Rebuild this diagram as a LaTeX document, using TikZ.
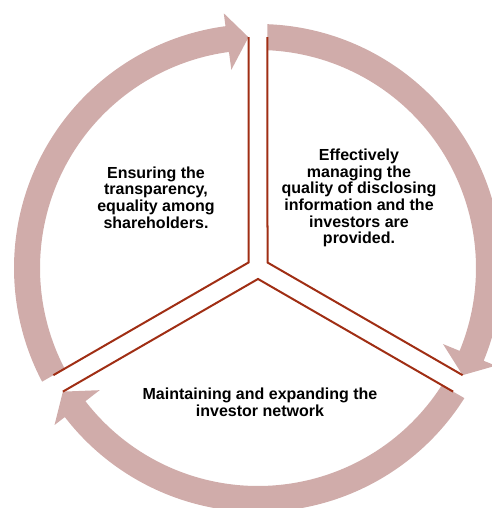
\documentclass[tikz,border=0pt]{standalone}
\usepackage{fontspec}
\setmainfont{Liberation Sans}
\definecolor{ringfill}{RGB}{208,172,170}
\definecolor{gapline}{RGB}{160,46,20}
\newcommand{\cycarrow}[2]{%
  \fill[ringfill]
    ({#1-asin(\hh/\Ro)}:\Ro pt)
    arc[start angle={#1-asin(\hh/\Ro)}, end angle={#2+asin(\hh/\Rm)+\hl}, radius=\Ro pt]
    -- ({#2+asin(\hh/\Rm)+\hl}:\Rho pt)
    -- ({#2+asin(\hh/\Rm)}:\Rm pt)
    -- ({#2+asin(\hh/\Rm)+\hl}:\Rhi pt)
    -- ({#2+asin(\hh/\Rm)+\hl}:\Ri pt)
    arc[start angle={#2+asin(\hh/\Rm)+\hl}, end angle={#1-asin(\hh/\Ri)}, radius=\Ri pt]
    -- cycle;}
\tikzset{
  txt/.style={align=center, inner sep=0pt, font=\fontsize{16pt}{16.7pt}\selectfont\bfseries, text=black},
  gap/.style={draw=gapline, line width=2pt, line join=miter}
}
\begin{document}
\begin{tikzpicture}
\useasboundingbox (-258pt,-240pt) rectangle (233pt,268pt);
\pgfmathsetmacro{\Ro}{244}
\pgfmathsetmacro{\Ri}{218}
\pgfmathsetmacro{\Rm}{231}
\pgfmathsetmacro{\Rho}{257}
\pgfmathsetmacro{\Rhi}{200}
\pgfmathsetmacro{\hh}{9.5}
\pgfmathsetmacro{\hl}{5.3}
\pgfmathsetmacro{\Rl}{231}
\pgfmathsetmacro{\cd}{\hh/sin(60)}
% ring arrows
\cycarrow{90}{-30}
\cycarrow{-30}{-150}
\cycarrow{210}{90}
% gap line coordinates
\coordinate (cR) at (30:\cd pt);
\coordinate (cB) at (-90:\cd pt);
\coordinate (cL) at (150:\cd pt);
\coordinate (tR) at ({90-asin(\hh/\Rl)}:\Rl pt);
\coordinate (tL) at ({90+asin(\hh/\Rl)}:\Rl pt);
\coordinate (rU) at ({-30+asin(\hh/\Rl)}:\Rl pt);
\coordinate (rD) at ({-30-asin(\hh/\Rl)}:\Rl pt);
\coordinate (lU) at ({210-asin(\hh/\Rl)}:\Rl pt);
\coordinate (lD) at ({210+asin(\hh/\Rl)}:\Rl pt);
\draw[gap] (tR) -- (cR) -- (rU);
\draw[gap] (rD) -- (cB) -- (lD);
\draw[gap] (lU) -- (cL) -- (tL);
% texts
\node[txt] (left) at (-102pt,70.5pt) {Ensuring the\\transparency,\\equality among\\shareholders.};
\node[txt] (right) at (101pt,70pt) {Effectively\\managing the\\quality of disclosing\\information and the\\investors are\\provided.};
\node[txt] (bottom) at (2pt,-134pt) {Maintaining and expanding the\\investor network};
\end{tikzpicture}
\end{document}
